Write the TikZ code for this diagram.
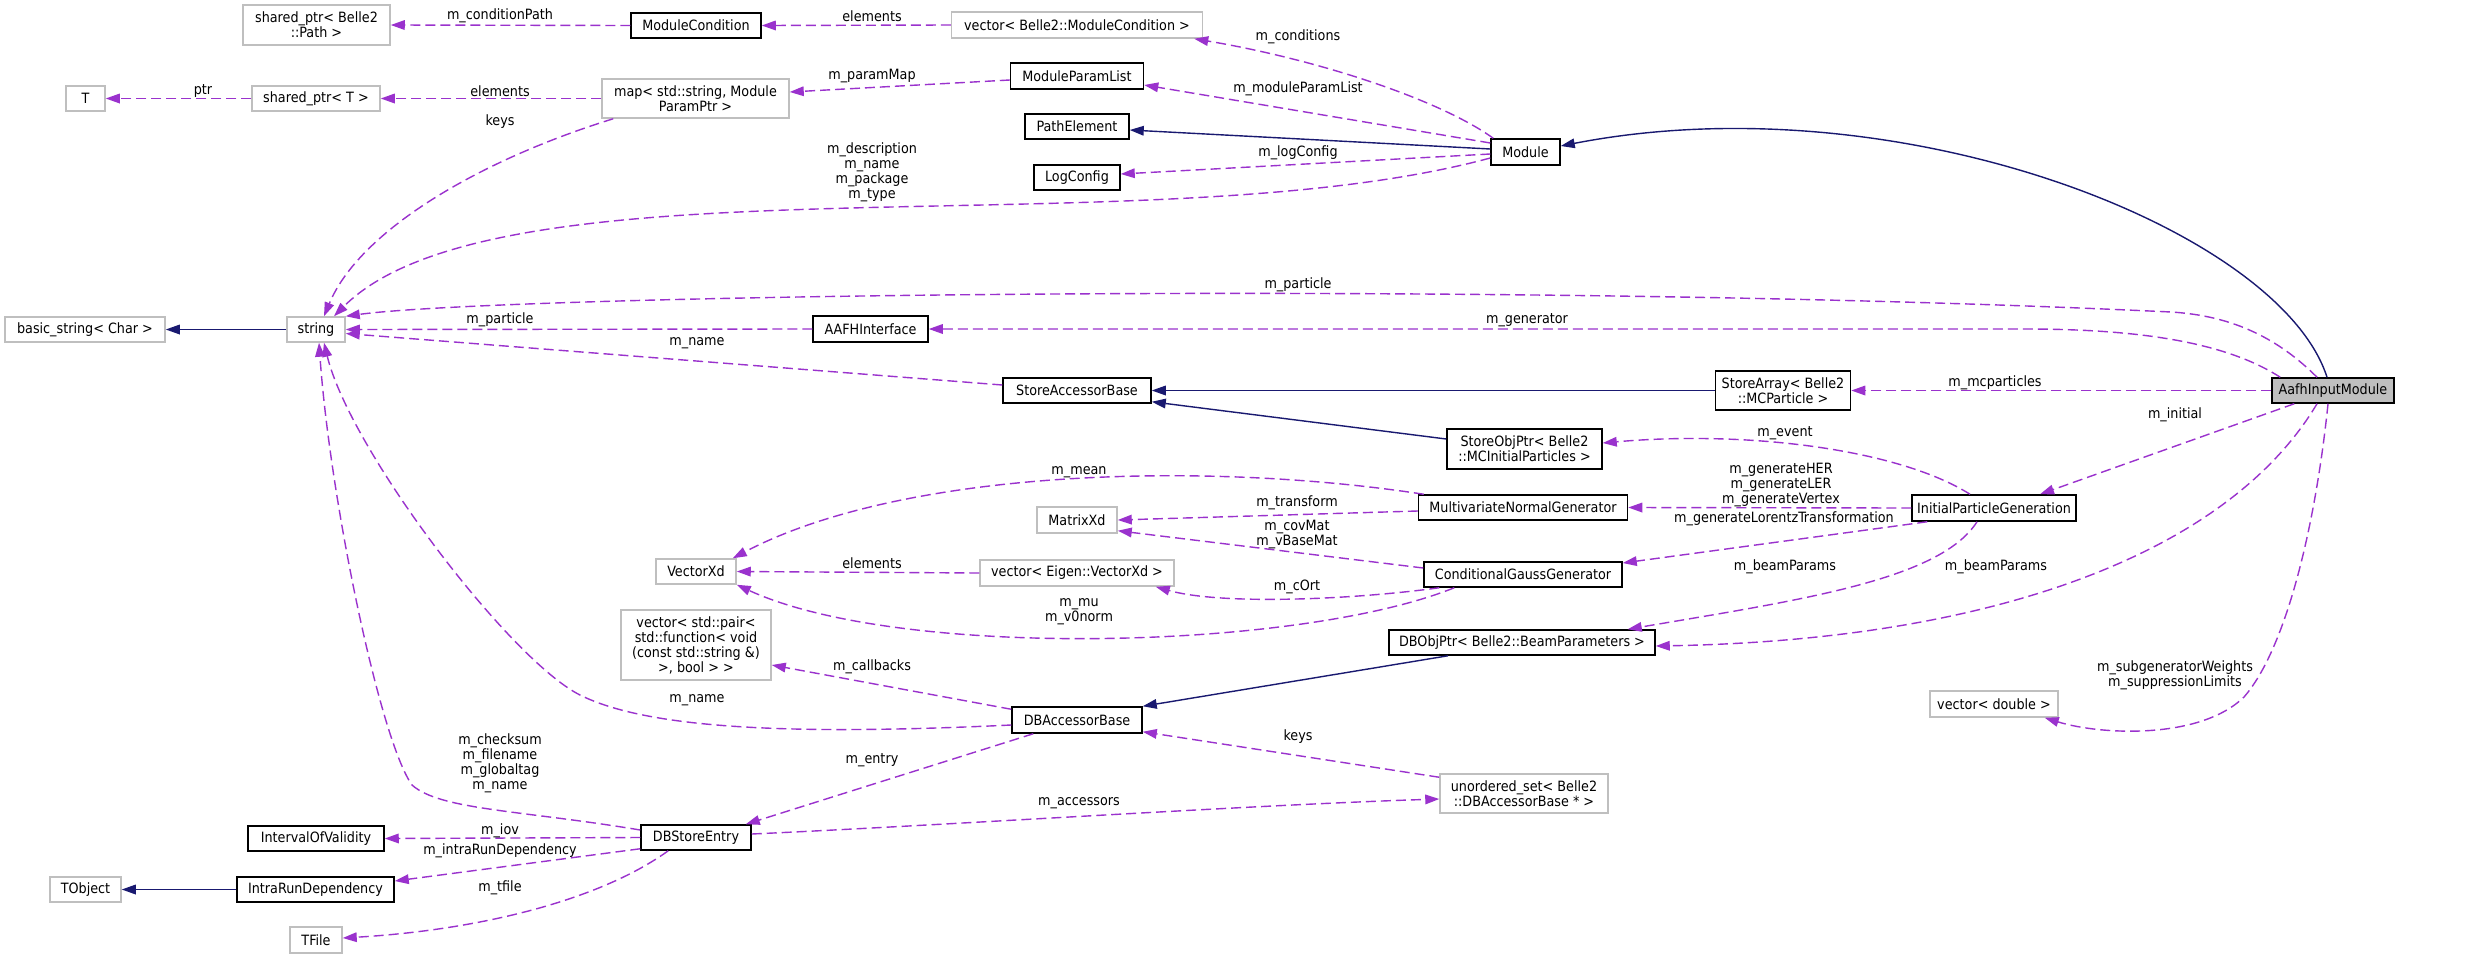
\documentclass[tikz,border=0pt]{standalone}
\usepackage{fontspec}
\setmainfont{DejaVu Sans Condensed}
\usetikzlibrary{arrows.meta}
\definecolor{usecol}{HTML}{9A32CD}
\definecolor{inhcol}{HTML}{191970}
\definecolor{graybd}{HTML}{BFBFBF}
\begin{document}
\begin{tikzpicture}[x=0.5pt,y=-0.5pt,
  every node/.style={font=\fontsize{7.1}{7.5}\selectfont, align=center},
  cls/.style 2 args={draw=black, line width=0.75pt, fill=white, inner sep=0pt, minimum width=#1*0.5pt, minimum height=#2*0.5pt},
  ext/.style 2 args={draw=graybd, line width=0.75pt, fill=white, inner sep=0pt, minimum width=#1*0.5pt, minimum height=#2*0.5pt},
  inh/.style={draw=inhcol, line width=0.7pt, -{Triangle[length=7pt,width=4.8pt]}},
  use/.style={draw=usecol, line width=0.7pt, dash pattern=on 5pt off 2.5pt, -{Triangle[length=7pt,width=4.8pt]}},
  lbl/.style={inner sep=0pt}]
\fill[white] (0,0) rectangle (2467,959);
\useasboundingbox (0,0) rectangle (2467,959);

% nodes
\node[ext={147}{40}] (spath) at (316.5,25) {shared\_ptr< Belle2\\::Path >};
\node[cls={130}{25}] (modcond) at (696,25.5) {ModuleCondition};
\node[ext={251}{26}] (vecmc) at (1077,25) {vector< Belle2::ModuleCondition >};
\node[ext={39}{25}] (T) at (85.5,98.5) {T};
\node[ext={128}{25}] (sptrT) at (316,98.5) {shared\_ptr< T >};
\node[ext={187}{39}] (map) at (695.5,98.5) {map< std::string, Module\\ParamPtr >};
\node[cls={133}{26}] (mpl) at (1077,76) {ModuleParamList};
\node[cls={104}{25}] (pathel) at (1077,126.5) {PathElement};
\node[cls={86}{25}] (logcfg) at (1077,177.5) {LogConfig};
\node[cls={69}{26}] (module) at (1525.5,152) {Module};
\node[ext={160}{25}] (bstr) at (85,329.5) {basic\_string< Char >};
\node[ext={58}{25}] (string) at (316,329.5) {string};
\node[cls={115}{26}] (aafhif) at (870.5,329) {AAFHInterface};
\node[cls={148}{25}] (sab) at (1077,390.5) {StoreAccessorBase};
\node[cls={135}{39}] (storearr) at (1783,390.5) {StoreArray< Belle2\\::MCParticle >};
\node[cls={122}{25}, fill=graybd] (aafh) at (2333,390.5) {AafhInputModule};
\node[cls={155}{40}] (storeobj) at (1524.5,449) {StoreObjPtr< Belle2\\::MCInitialParticles >};
\node[cls={209}{25}] (mng) at (1523,507.5) {MultivariateNormalGenerator};
\node[ext={80}{26}] (matxd) at (1077,520) {MatrixXd};
\node[cls={164}{26}] (ipg) at (1994,508) {InitialParticleGeneration};
\node[ext={80}{25}] (vecxd) at (696,571.5) {VectorXd};
\node[ext={194}{26}] (veceig) at (1077,573) {vector< Eigen::VectorXd >};
\node[cls={198}{25}] (cgg) at (1523,574.5) {ConditionalGaussGenerator};
\node[ext={150}{70}] (vecpair) at (696,645) {vector< std::pair<\\std::function< void\\(const std::string \&)\\>, bool > >};
\node[cls={266}{25}] (dbobj) at (1522,642.5) {DBObjPtr< Belle2::BeamParameters >};
\node[cls={130}{26}] (dbab) at (1077,720) {DBAccessorBase};
\node[ext={128}{26}] (vecdbl) at (1994,704) {vector< double >};
\node[ext={168}{39}] (uset) at (1524,793.5) {unordered\_set< Belle2\\::DBAccessorBase * >};
\node[cls={136}{25}] (iov) at (316,838.5) {IntervalOfValidity};
\node[cls={110}{25}] (dbse) at (696,837.5) {DBStoreEntry};
\node[ext={71}{25}] (tobj) at (85.5,889.5) {TObject};
\node[cls={157}{25}] (intra) at (315.5,889.5) {IntraRunDependency};
\node[ext={52}{26}] (tfile) at (316,940) {TFile};

% inheritance
\draw[inh] ([yshift=1.5pt]module.west) -- ([yshift=-1.75pt]pathel.east);
\draw[inh] ([xshift=-3pt]aafh.north) .. controls (2280,230) and (1900,80) .. ([yshift=3pt]module.east);
\draw[inh] (string.west) -- (bstr.east);
\draw[inh] (storearr.west) -- (sab.east);
\draw[inh] ([yshift=5pt]storeobj.west) -- ([yshift=1pt]sab.south east);
\draw[inh] ([xshift=-37pt]dbobj.south) -- (dbab.north east);
\draw[inh] (intra.west) -- (tobj.east);

% usage
\draw[use] (modcond.west) -- (spath.east);
\draw[use] (vecmc.west) -- (modcond.east);
\draw[use] ([xshift=1.5pt]module.north west) .. controls (1440,100) and (1320,60) .. ([xshift=-4.5pt]vecmc.south east);
\draw[use] (sptrT.west) -- (T.east);
\draw[use] (map.west) -- (sptrT.east);
\draw[use] ([yshift=-2pt]mpl.west) -- ([yshift=3.25pt]map.east);
\draw[use] ([yshift=4.5pt]module.west) -- ([yshift=-4.5pt]mpl.east);
\draw[use] ([yshift=-1pt]module.west) -- ([yshift=1.75pt]logcfg.east);
\draw[use] ([yshift=-3pt]module.west) .. controls (1150,250) and (500,150) .. ([xshift=9pt]string.north);
\draw[use] ([xshift=6pt]map.south west) .. controls (480,160) and (360,230) .. ([xshift=4pt]string.north);
\draw[use] ([xshift=-8pt]aafh.north) .. controls (2270,330) and (2220,315) .. (2171,312) .. controls (1500,280) and (500,295) .. (string.north east);
\draw[use] ([xshift=4.5pt]aafh.north west) .. controls (2230,345) and (2150,329) .. (2025,329) -- (aafhif.east);
\draw[use] (aafhif.west) -- (string.east);
\draw[use] ([yshift=2.75pt]sab.west) -- ([yshift=-2pt]string.east);
\draw[use] (aafh.west) -- (storearr.east);
\draw[use] ([xshift=11.5pt]aafh.south west) -- ([xshift=23pt]ipg.north);
\draw[use] ([xshift=-12pt]ipg.north) .. controls (1900,450) and (1750,430) .. ([yshift=3pt]storeobj.east);
\draw[use] (ipg.west) -- (mng.east);
\draw[use] ([xshift=8pt]ipg.south west) -- ([yshift=5.75pt]cgg.east);
\draw[use] ([xshift=-8.5pt]ipg.south) .. controls (1940,580) and (1800,600) .. ([xshift=-14pt]dbobj.north east);
\draw[use] ([xshift=-8pt]aafh.south) .. controls (2230,550) and (2000,640) .. ([yshift=-1.75pt]dbobj.east);
\draw[use] ([xshift=-2.5pt]aafh.south) .. controls (2315,530) and (2285,650) .. (2244,697) .. controls (2200,740) and (2100,735) .. ([xshift=-7pt]vecdbl.south east);
\draw[use] ([xshift=3pt]mng.north west) .. controls (1200,460) and (900,470) .. ([xshift=-2pt]vecxd.north east);
\draw[use] ([yshift=-1.75pt]mng.west) -- (matxd.east);
\draw[use] ([yshift=3.25pt]cgg.west) -- ([yshift=1.5pt]matxd.south east);
\draw[use] (veceig.west) -- (vecxd.east);
\draw[use] ([xshift=8pt]cgg.south west) .. controls (1350,600) and (1220,605) .. ([xshift=-9.5pt]veceig.south east);
\draw[use] ([xshift=15.5pt]cgg.south west) .. controls (1300,650) and (900,660) .. (vecxd.south east);
\draw[use] ([yshift=-1.5pt]dbab.north west) -- ([yshift=-10pt]vecpair.east);
\draw[use] ([yshift=-2.5pt]dbab.west) .. controls (800,735) and (650,730) .. (580,695) .. controls (510,660) and (350,450) .. ([xshift=4pt]string.south);
\draw[use] ([xshift=11pt]dbab.south west) -- ([xshift=-3pt]dbse.north east);
\draw[use] ([yshift=1.75pt]dbse.east) .. controls (950,825) and (1250,805) .. ([yshift=-2.75pt]uset.west);
\draw[use] ([yshift=-2pt]uset.north west) -- ([yshift=1pt]dbab.south east);
\draw[use] ([yshift=3.75pt]dbse.west) .. controls (520,810) and (440,810) .. (412,785) .. controls (380,740) and (330,500) .. ([xshift=1.5pt]string.south);
\draw[use] (dbse.west) -- (iov.east);
\draw[use] ([yshift=1pt]dbse.south west) -- ([yshift=4.25pt]intra.east);
\draw[use] ([xshift=14pt]dbse.south west) .. controls (600,900) and (480,930) .. ([yshift=1pt]tfile.east);

% labels
\node[lbl] (l1) at (500,16) {m\_conditionPath};
\node[lbl] (l2) at (872,16) {elements};
\node[lbl] (l3) at (1298,37) {m\_conditions};
\node[lbl] (l4) at (203,91) {ptr};
\node[lbl] (l5) at (500,91) {elements};
\node[lbl] (l6) at (872,76) {m\_paramMap};
\node[lbl] (l7) at (1298,89) {m\_moduleParamList};
\node[lbl] (l8) at (1298,153) {m\_logConfig};
\node[lbl] (l9) at (872,172.5) {m\_description\\m\_name\\m\_package\\m\_type};
\node[lbl] (l10) at (500,122) {keys};
\node[lbl] (l11) at (1298,285) {m\_particle};
\node[lbl] (l12) at (1527,320) {m\_generator};
\node[lbl] (l13) at (500,320) {m\_particle};
\node[lbl] (l14) at (697,343) {m\_name};
\node[lbl] (l15) at (1995,383) {m\_mcparticles};
\node[lbl] (l16) at (2175,415) {m\_initial};
\node[lbl] (l17) at (1785,433) {m\_event};
\node[lbl] (l18) at (1781,485) {m\_generateHER\\m\_generateLER\\m\_generateVertex};
\node[lbl] (l19) at (1784,519) {m\_generateLorentzTransformation};
\node[lbl] (l20) at (1785,567) {m\_beamParams};
\node[lbl] (l21) at (1996,567) {m\_beamParams};
\node[lbl] (l22) at (2175,675) {m\_subgeneratorWeights\\m\_suppressionLimits};
\node[lbl] (l23) at (1079,472) {m\_mean};
\node[lbl] (l24) at (1297,503) {m\_transform};
\node[lbl] (l25) at (1297,534) {m\_covMat\\m\_vBaseMat};
\node[lbl] (l26) at (872,563) {elements};
\node[lbl] (l27) at (1297,587) {m\_cOrt};
\node[lbl] (l28) at (1079,612) {m\_mu\\m\_v0norm};
\node[lbl] (l29) at (872,667) {m\_callbacks};
\node[lbl] (l30) at (697,700) {m\_name};
\node[lbl] (l31) at (872,760) {m\_entry};
\node[lbl] (l32) at (1079,803) {m\_accessors};
\node[lbl] (l33) at (1298,737) {keys};
\node[lbl] (l34) at (500,763) {m\_checksum\\m\_filename\\m\_globaltag\\m\_name};
\node[lbl] (l35) at (500,831) {m\_iov};
\node[lbl] (l36) at (500,851) {m\_intraRunDependency};
\node[lbl] (l37) at (500,888) {m\_tfile};
\end{tikzpicture}
\end{document}
